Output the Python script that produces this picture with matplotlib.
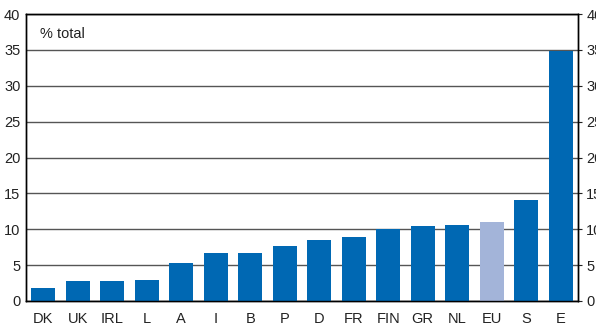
import matplotlib
matplotlib.use("Agg")
import matplotlib.pyplot as plt
import numpy as np

plt.rcParams['font.family'] = ['Liberation Sans', 'DejaVu Sans']

countries = ["DK", "UK", "IRL", "L", "A", "I", "B", "P", "D", "FR", "FIN", "GR", "NL", "EU", "S", "E"]
share = [1.85, 2.8, 2.8, 2.9, 5.3, 6.7, 6.7, 7.7, 8.5, 8.9, 10.0, 10.45, 10.6, 11.05, 14.1, 34.9]

blue = "#0068b3"
light = "#a3b4d9"
colors = [light if c == "EU" else blue for c in countries]

fig = plt.figure(figsize=(5.96, 3.34), dpi=100)
ax = fig.add_axes([26/596, 33/334, 552/596, 287/334])

x = np.arange(len(countries))
ax.bar(x, share, width=0.7, color=colors, zorder=3)

ax.set_xlim(-0.5, len(countries) - 0.5)
ax.set_ylim(0, 40)
ax.set_yticks(range(0, 41, 5))
ax.yaxis.grid(True, color="#555555", linewidth=1.0, zorder=1)
ax.set_xticks(x)
ax.set_xticklabels(countries)
ax.tick_params(axis="x", length=0, pad=8, labelsize=10.5, colors="#222222")
ax.tick_params(axis="y", length=0, pad=4, labelsize=10.5, colors="#222222")

ax2 = ax.twinx()
ax2.set_ylim(0, 40)
ax2.set_yticks(range(0, 41, 5))
ax2.tick_params(axis="y", length=3, pad=3, labelsize=10.5, colors="#222222")

for a in (ax, ax2):
    for s in a.spines.values():
        s.set_color("black")
        s.set_linewidth(1.0)

ax.text(14/552, (301-34)/287, "% total", transform=ax.transAxes, fontsize=10.5,
        va="center", ha="left", color="#222222")

fig.savefig("out.png", dpi=100)
